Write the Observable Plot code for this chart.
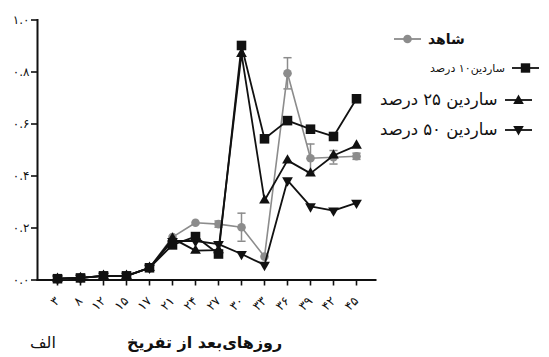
<!DOCTYPE html>
<html>
<head>
<meta charset="utf-8">
<script src="https://cdn.jsdelivr.net/npm/d3@7"></script>
<script src="https://cdn.jsdelivr.net/npm/@observablehq/plot@0.6"></script>
<style>
  body { margin: 0; background: #fff; }
  #chart { position: relative; width: 549px; height: 357px; font-family: "DejaVu Sans", sans-serif; color: #111; overflow: hidden; }
  #chart svg.plot { position: absolute; left: 0; top: 0; }
  .leg { position: absolute; display: flex; align-items: center; gap: 7px; white-space: nowrap; }
  .leg .lab { direction: rtl; }
  .title { position: absolute; top: 333px; font-weight: bold; font-size: 16px; direction: rtl; white-space: nowrap; }
</style>
</head>
<body>
<div id="chart"></div>
<script>
// Days after hatching (x categories, Persian numerals)
const days = ["۳", "۸", "۱۲", "۱۵", "۱۷", "۲۱", "۲۴", "۲۷", "۳۰", "۳۳", "۳۶", "۳۹", "۴۲", "۴۵"];

// Series values per day
const control   = [0.005, 0.008, 0.015, 0.015, 0.047, 0.165, 0.220, 0.215, 0.203, 0.090, 0.795, 0.468, 0.472, 0.476];
const controlSd = [0, 0, 0, 0, 0, 0, 0, 0.012, 0.054, 0, 0.060, 0.055, 0.026, 0.012];
const sardine10 = [0.005, 0.008, 0.016, 0.016, 0.047, 0.135, 0.167, 0.100, 0.902, 0.543, 0.613, 0.580, 0.552, 0.697];
const sardine25 = [0.005, 0.008, 0.016, 0.016, 0.047, 0.160, 0.113, 0.115, 0.870, 0.306, 0.460, 0.410, 0.479, 0.517];
const sardine50 = [0.005, 0.008, 0.016, 0.016, 0.047, 0.150, 0.150, 0.138, 0.100, 0.058, 0.383, 0.283, 0.267, 0.297];

const seriesNames = ["شاهد", "ساردین۱۰ درصد", "ساردین ۲۵ درصد", "ساردین ۵۰ درصد"];
const yTicks = [0, 0.2, 0.4, 0.6, 0.8, 1.0];
const xTitle = "روزهای‌بعد از تفریخ";
const panelLabel = "الف";

const faDigits = "۰۱۲۳۴۵۶۷۸۹";
const toFa = s => String(s).replace(/\d/g, c => faDigits[+c]);

const rows = (vals, name) => days.map((d, i) => ({day: d, value: vals[i], name}));
const cRows = days.map((d, i) => ({day: d, value: control[i], sd: controlSd[i]}));
const s10 = rows(sardine10, seriesNames[1]);
const s25 = rows(sardine25, seriesNames[2]);
const s50 = rows(sardine50, seriesNames[3]);
const errRows = cRows.filter(r => r.sd > 0);

// horizontal cap used for error bars
const cap = {draw(ctx, size) { const w = Math.sqrt(size); ctx.moveTo(-w, 0); ctx.lineTo(w, 0); }};

const grey = "#8c8c8c";
const ink = "#111";

const plot = Plot.plot({
  width: 549,
  height: 322,
  marginLeft: 37,
  marginRight: 174,
  marginTop: 19.5,
  marginBottom: 42.5,
  style: {background: "transparent", fontFamily: "DejaVu Sans, sans-serif", color: ink},
  x: {type: "point", domain: days, padding: 0.57, label: null},
  y: {domain: [0, 1], label: null},
  marks: [
    Plot.frame({anchor: "left", stroke: ink, strokeWidth: 2}),
    Plot.frame({anchor: "bottom", stroke: ink, strokeWidth: 2}),
    Plot.axisY(yTicks, {tickSize: 6, tickPadding: 2, strokeWidth: 1.6, fontSize: 12, label: null, tickFormat: d => toFa(d.toFixed(1))}),
    Plot.axisX({tickSize: 6, strokeWidth: 1.6, tickRotate: -45, tickPadding: 13, fontSize: 12.5, label: null}),

    // control (grey circles) with error bars
    Plot.ruleX(errRows, {x: "day", y1: d => d.value - d.sd, y2: d => d.value + d.sd, stroke: grey, strokeWidth: 1.5}),
    Plot.dot(errRows, {x: "day", y: d => d.value - d.sd, symbol: cap, r: 2.3, stroke: grey, strokeWidth: 1.5}),
    Plot.dot(errRows, {x: "day", y: d => d.value + d.sd, symbol: cap, r: 2.3, stroke: grey, strokeWidth: 1.5}),
    Plot.line(cRows, {x: "day", y: "value", stroke: grey, strokeWidth: 1.6}),
    Plot.dot(cRows, {x: "day", y: "value", r: 4.3, fill: grey, stroke: "none"}),

    // sardine 50% (down triangles)
    Plot.line(s50, {x: "day", y: "value", stroke: ink, strokeWidth: 1.8}),
    Plot.dot(s50, {x: "day", y: "value", symbol: "triangle", rotate: 180, r: 4, fill: ink, stroke: "none"}),

    // sardine 25% (up triangles)
    Plot.line(s25, {x: "day", y: "value", stroke: ink, strokeWidth: 1.8}),
    Plot.dot(s25, {x: "day", y: "value", symbol: "triangle", r: 4, fill: ink, stroke: "none"}),

    // sardine 10% (squares)
    Plot.line(s10, {x: "day", y: "value", stroke: ink, strokeWidth: 1.8}),
    Plot.dot(s10, {x: "day", y: "value", symbol: "square", r: 5.4, fill: ink, stroke: "none"})
  ]
});
plot.classList.add("plot");

const chart = document.getElementById("chart");
chart.appendChild(plot);

// legend
function swatch(kind) {
  const ns = "http://www.w3.org/2000/svg";
  const svg = document.createElementNS(ns, "svg");
  svg.setAttribute("width", 27); svg.setAttribute("height", 14);
  const color = kind === "circle" ? grey : ink;
  const line = document.createElementNS(ns, "line");
  line.setAttribute("x1", 0); line.setAttribute("x2", 27); line.setAttribute("y1", 7); line.setAttribute("y2", 7);
  line.setAttribute("stroke", color); line.setAttribute("stroke-width", 1.8);
  svg.appendChild(line);
  let m;
  if (kind === "circle") {
    m = document.createElementNS(ns, "circle");
    m.setAttribute("cx", 13.5); m.setAttribute("cy", 7); m.setAttribute("r", 4.3);
  } else if (kind === "square") {
    m = document.createElementNS(ns, "rect");
    m.setAttribute("x", 8.8); m.setAttribute("y", 2.3); m.setAttribute("width", 9.4); m.setAttribute("height", 9.4);
  } else {
    m = document.createElementNS(ns, "path");
    m.setAttribute("d", kind === "up" ? "M13.5,1.5L18.8,11L8.2,11Z" : "M13.5,12.5L18.8,3L8.2,3Z");
  }
  m.setAttribute("fill", color);
  svg.appendChild(m);
  return svg;
}

const legendItems = [
  {name: seriesNames[0], kind: "circle", left: 394, top: 31, size: 14, weight: "bold", swatchFirst: true},
  {name: seriesNames[1], kind: "square", left: 430, top: 61, size: 11, weight: "normal", swatchFirst: false},
  {name: seriesNames[2], kind: "up", left: 380, top: 90, size: 16.5, weight: "normal", swatchFirst: false},
  {name: seriesNames[3], kind: "down", left: 380, top: 120, size: 16.5, weight: "normal", swatchFirst: false}
];
for (const it of legendItems) {
  const row = document.createElement("div");
  row.className = "leg";
  row.style.left = it.left + "px";
  row.style.top = it.top + "px";
  const lab = document.createElement("span");
  lab.className = "lab";
  lab.textContent = it.name;
  lab.style.fontSize = it.size + "px";
  lab.style.fontWeight = it.weight;
  const sw = swatch(it.kind);
  if (it.swatchFirst) { row.appendChild(sw); row.appendChild(lab); }
  else { row.appendChild(lab); row.appendChild(sw); }
  chart.appendChild(row);
}

// axis title and panel label
const t = document.createElement("div");
t.className = "title";
t.textContent = xTitle;
t.style.left = "127px";
chart.appendChild(t);

const p = document.createElement("div");
p.className = "title";
p.textContent = panelLabel;
p.style.left = "30px";
p.style.fontWeight = "normal";
chart.appendChild(p);
</script>
</body>
</html>
